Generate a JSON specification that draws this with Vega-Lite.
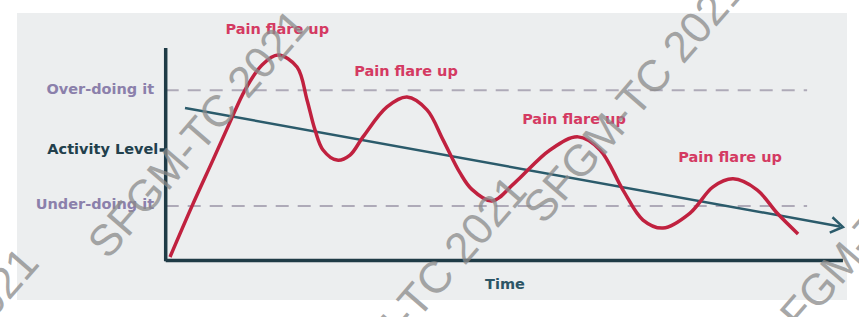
{
  "$schema": "https://vega.github.io/schema/vega-lite/v6.json",
  "width": 830,
  "height": 287,
  "autosize": {"type": "none"},
  "padding": {"left": 17, "top": 13, "right": 12, "bottom": 17},
  "background": "#ffffff",
  "view": {"fill": "#eceeef", "stroke": null},
  "datasets": {
    "wave": [
      {"t": 0.064, "level": 0.10}, {"t": 0.389, "level": 2.51}, {"t": 0.700, "level": 4.70},
      {"t": 0.951, "level": 6.49}, {"t": 1.173, "level": 8.01}, {"t": 1.425, "level": 9.20},
      {"t": 1.662, "level": 9.67}, {"t": 1.943, "level": 9.10}, {"t": 2.091, "level": 7.54},
      {"t": 2.209, "level": 6.12}, {"t": 2.328, "level": 5.17}, {"t": 2.535, "level": 4.69},
      {"t": 2.727, "level": 4.93}, {"t": 2.919, "level": 5.79}, {"t": 3.274, "level": 7.21},
      {"t": 3.570, "level": 7.68}, {"t": 3.866, "level": 7.07}, {"t": 4.103, "level": 5.65},
      {"t": 4.355, "level": 4.08}, {"t": 4.530, "level": 3.30}, {"t": 4.828, "level": 2.75},
      {"t": 5.160, "level": 3.60}, {"t": 5.686, "level": 5.17}, {"t": 6.100, "level": 5.79},
      {"t": 6.426, "level": 5.17}, {"t": 6.766, "level": 3.27}, {"t": 7.062, "level": 1.85},
      {"t": 7.358, "level": 1.47}, {"t": 7.758, "level": 2.18}, {"t": 8.098, "level": 3.42},
      {"t": 8.394, "level": 3.80}, {"t": 8.749, "level": 3.28}, {"t": 9.045, "level": 2.18},
      {"t": 9.356, "level": 1.19}
    ],
    "trend": [
      {"t": 0.286, "level": 7.16},
      {"t": 9.976, "level": 1.545}
    ],
    "arrow": [
      {"t": 10.02, "level": 1.52}
    ],
    "guides": [
      {"name": "Over-doing it", "t": 0, "t2": 9.49, "level": 8.0},
      {"name": "Under-doing it", "t": 0, "t2": 9.49, "level": 2.52}
    ],
    "axes": [
      {"axis": "y", "t": 0, "t2": 0, "level": -0.1, "level2": 10.0},
      {"axis": "x", "t": 0, "t2": 10.02, "level": -0.07, "level2": -0.07},
      {"axis": "tick", "t": -0.09, "t2": 0, "level": 5.17, "level2": 5.17}
    ],
    "sideLabels": [
      {"text": "Over-doing it", "t": -0.17, "level": 8.0},
      {"text": "Under-doing it", "t": -0.17, "level": 2.56}
    ],
    "axisLabels": [
      {"text": "Activity Level", "t": -0.11, "level": 5.17}
    ],
    "timeLabel": [
      {"text": "Time", "t": 5.02, "level": -1.23}
    ],
    "flares": [
      {"text": "Pain flare up", "t": 1.65, "level": 10.86},
      {"text": "Pain flare up", "t": 3.555, "level": 8.87},
      {"text": "Pain flare up", "t": 6.04, "level": 6.59},
      {"text": "Pain flare up", "t": 8.35, "level": 4.79}
    ],
    "watermarks": [
      {"text": "SFGM-TC 2021", "t": 0.507, "level": 5.88},
      {"text": "SFGM-TC 2021", "t": 6.95, "level": 7.54},
      {"text": "SFGM-TC 2021", "t": 3.72, "level": -2.0},
      {"text": "SFGM-TC 2021", "t": 10.467, "level": 1.424},
      {"text": "SFGM-TC 2021", "t": -3.5, "level": -5.4}
    ]
  },
  "encoding": {
    "x": {"field": "t", "type": "quantitative", "scale": {"domain": [-2.2, 10.08], "nice": false, "zero": false}, "axis": null},
    "y": {"field": "level", "type": "quantitative", "scale": {"domain": [-1.94, 11.66], "nice": false, "zero": false}, "axis": null}
  },
  "layer": [
    {
      "data": {"name": "guides"},
      "mark": {"type": "rule", "strokeDash": [13, 9], "strokeWidth": 2, "color": "#aeaab8"},
      "encoding": {"x2": {"field": "t2"}}
    },
    {
      "data": {"name": "axes"},
      "mark": {"type": "rule", "strokeWidth": 3.5, "color": "#1f3b46"},
      "encoding": {"x2": {"field": "t2"}, "y2": {"field": "level2"}}
    },
    {
      "data": {"name": "trend"},
      "mark": {"type": "line", "strokeWidth": 2.5, "color": "#2b5b6b"}
    },
    {
      "data": {"name": "arrow"},
      "mark": {"type": "point", "shape": "M-1,-0.65L0,0L-1,0.65", "size": 576, "filled": false, "strokeWidth": 2.5, "color": "#2b5b6b", "opacity": 1, "angle": 10}
    },
    {
      "data": {"name": "wave"},
      "mark": {"type": "line", "interpolate": "catmull-rom", "strokeWidth": 3.5, "color": "#c0213f"}
    },
    {
      "data": {"name": "sideLabels"},
      "mark": {"type": "text", "align": "right", "baseline": "middle", "font": "DejaVu Sans", "fontWeight": "bold", "fontSize": 14.5, "color": "#8b80ab"},
      "encoding": {"text": {"field": "text"}}
    },
    {
      "data": {"name": "axisLabels"},
      "mark": {"type": "text", "align": "right", "baseline": "middle", "font": "DejaVu Sans", "fontWeight": "bold", "fontSize": 14.5, "color": "#22404c"},
      "encoding": {"text": {"field": "text"}}
    },
    {
      "data": {"name": "timeLabel"},
      "mark": {"type": "text", "align": "center", "baseline": "middle", "font": "DejaVu Sans", "fontWeight": "bold", "fontSize": 14.5, "color": "#2c5566"},
      "encoding": {"text": {"field": "text"}}
    },
    {
      "data": {"name": "flares"},
      "mark": {"type": "text", "align": "center", "baseline": "middle", "font": "DejaVu Sans", "fontWeight": "bold", "fontSize": 14.5, "color": "#d43a62"},
      "encoding": {"text": {"field": "text"}}
    },
    {
      "data": {"name": "watermarks"},
      "mark": {"type": "text", "align": "center", "baseline": "middle", "font": "Liberation Sans", "fontWeight": "normal", "fontSize": 44, "angle": -49, "color": "#8a8a8a", "opacity": 0.75},
      "encoding": {"text": {"field": "text"}}
    }
  ]
}
